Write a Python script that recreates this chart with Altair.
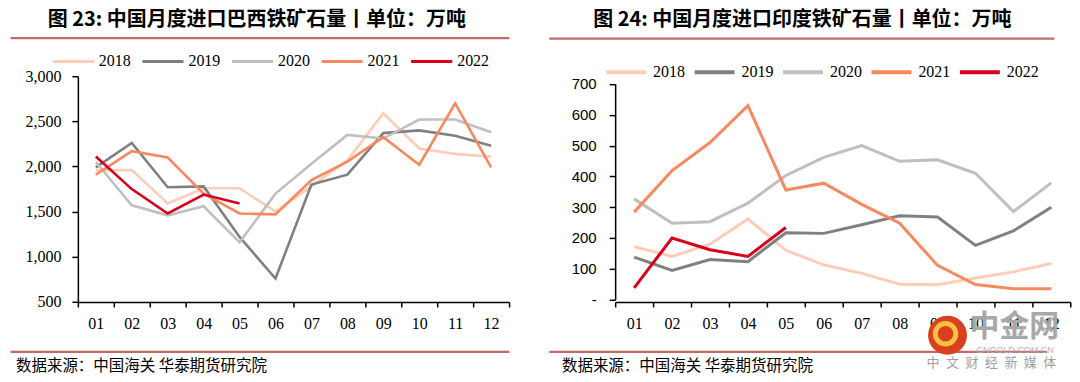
import altair as alt
import pandas as pd

months = ["01", "02", "03", "04", "05", "06", "07", "08", "09", "10", "11", "12"]
years = ["2018", "2019", "2020", "2021", "2022"]
year_colors = ["#FCCDB9", "#808080", "#BFBFBF", "#F7895F", "#D9001B"]

brazil_2018 = [1960, 1960, 1590, 1760, 1760, 1500, 1780, 2070, 2590, 2200, 2140, 2110]
brazil_2019 = [1990, 2260, 1770, 1780, 1220, 760, 1800, 1910, 2370, 2400, 2340, 2230]
brazil_2020 = [2050, 1570, 1460, 1560, 1160, 1700, 2030, 2350, 2310, 2520, 2520, 2380]
brazil_2021 = [1910, 2170, 2100, 1700, 1480, 1470, 1850, 2055, 2325, 2020, 2700, 1990]
brazil_2022 = [2110, 1750, 1480, 1690, 1590]

india_2018 = [172, 140, 180, 262, 160, 113, 85, 50, 48, 70, 90, 117]
india_2019 = [138, 95, 130, 123, 217, 215, 243, 272, 268, 176, 223, 300]
india_2020 = [327, 248, 253, 313, 403, 462, 500, 449, 454, 410, 286, 379]
india_2021 = [284, 419, 510, 630, 356, 378, 309, 248, 111, 49, 35, 35]
india_2022 = [38, 200, 162, 140, 234]

brazil_ticks = [500, 1000, 1500, 2000, 2500, 3000]
india_ticks = [0, 100, 200, 300, 400, 500, 600, 700]

title_left = "图 23: 中国月度进口巴西铁矿石量丨单位：万吨"
title_right = "图 24: 中国月度进口印度铁矿石量丨单位：万吨"
source_text = "数据来源：中国海关 华泰期货研究院"
wm_big = "中金网"
wm_url = "CNGOLD.COM.CN"
wm_small = "中\u2002文\u2002财\u2002经\u2002新\u2002媒\u2002体"

RULE_COLOR = "#C46A6A"
CJK = "Noto Sans CJK SC"
SERIF = "Liberation Serif"
SANS = "Liberation Sans"


def long_table(series):
    rows = []
    for yr, vals in zip(years, series):
        for m, v in zip(months, vals):
            rows.append({"month": m, "year": yr, "value": v})
    return pd.DataFrame(rows)


brazil_df = long_table([brazil_2018, brazil_2019, brazil_2020, brazil_2021, brazil_2022])
india_df = long_table([india_2018, india_2019, india_2020, india_2021, india_2022])
one = pd.DataFrame({"k": [0]})


def rule(x1, x2, y, color=RULE_COLOR, w=2.2):
    return alt.Chart(one).mark_rule(color=color, strokeWidth=w).encode(
        x=alt.value(x1), x2=alt.value(x2), y=alt.value(y)
    )


def text(t, x, y, size, font=CJK, weight="normal", color="black", align="left", baseline="middle"):
    return alt.Chart(one).mark_text(
        text=t, font=font, fontSize=size, fontWeight=weight, color=color,
        align=align, baseline=baseline
    ).encode(x=alt.value(x), y=alt.value(y))


def panel(df, yscale, yaxis, legend, stroke, title, title_x, rule_top, rule_bot, src_x):
    lines = alt.Chart(df).mark_line(strokeWidth=stroke).encode(
        x=alt.X(
            "month:O",
            bandPosition=0.5,
            scale=alt.Scale(type="band", paddingInner=0, paddingOuter=0),
            axis=alt.Axis(
                title=None, labelAngle=0, tickBand="extent", labelFont=SERIF,
                labelFontSize=16, labelColor="black", tickSize=5, tickColor="black",
                tickWidth=1.5, domainColor="black", domainWidth=1.5, labelPadding=9,
                grid=False,
            ),
        ),
        y=alt.Y("value:Q", scale=yscale, axis=yaxis),
        color=alt.Color(
            "year:N",
            scale=alt.Scale(domain=years, range=year_colors),
            legend=legend,
        ),
        order=alt.Order("year:N"),
    )
    return [
        lines,
        text(title, title_x, -56.4, 20, weight="bold"),
        rule(rule_top[0], rule_top[1], rule_top[2]),
        rule(rule_bot[0], rule_bot[1], rule_bot[2]),
        text(source_text, src_x, 290.5, 15.5),
    ]


# invisible anchor fixing the top-left of the drawing at page (8, 8)
anchor = alt.Chart(one).mark_point(size=1, opacity=0, filled=True).encode(
    x=alt.value(-68.7), y=alt.value(-67.5)
)

# Left panel: plot area at page (76.7, 75.5)
left_layers = panel(
    brazil_df,
    alt.Scale(domain=[500, 3000], range=[226.2, 0], nice=False, zero=False),
    alt.Axis(
        title=None, values=brazil_ticks, format=",.0f", labelFont=SERIF, labelFontSize=16,
        labelColor="black", tickSize=6, tickColor="black", tickWidth=1.5,
        domainColor="black", domainWidth=1.5, labelPadding=11, grid=False,
    ),
    alt.Legend(
        orient="none", legendX=-27, legendY=-37.5, direction="horizontal", title=None,
        symbolType="stroke", symbolSize=1700, symbolStrokeWidth=3,
        labelFont=SERIF, labelFontSize=16, labelColor="black", labelOffset=3,
        columnPadding=4.75, padding=0,
    ),
    2.6, title_left, -30.2,
    (-67.4, 432.3, -38.2), (-67.4, 432.3, 276.2), -62,
)
left = alt.layer(anchor, *left_layers).properties(width=432, height=226.2)

# Right panel: plot area at page (615, 75.5)
right_layers = panel(
    india_df,
    alt.Scale(domain=[0, 700], range=[223.8, 7.8], nice=False),
    alt.Axis(
        title=None, values=india_ticks, labelFont=SANS, labelFontSize=15,
        labelExpr="datum.value == 0 ? '-\u00a0\u00a0\u00a0\u00a0\u00a0' : datum.label",
        labelColor="black", tickSize=6, tickColor="black", tickWidth=1.5,
        domainColor="black", domainWidth=1.5, labelPadding=13, grid=False,
    ),
    alt.Legend(
        orient="none", legendX=-11, legendY=-26, direction="horizontal", title=None,
        symbolType="stroke", symbolSize=1600, symbolStrokeWidth=4,
        labelFont=SERIF, labelFontSize=16, labelColor="black", labelOffset=5,
        columnPadding=1.6, padding=0,
    ),
    3, title_right, -22,
    (-66, 440, -37.7), (-66, 433, 276.2), -53.3,
)
logo = alt.Chart(one).mark_point(
    shape="circle", filled=True, size=1520, color="#D8401F", opacity=1
).encode(x=alt.value(333), y=alt.value(259.5))
logo_inner = alt.Chart(one).mark_point(
    shape="circle", filled=False, size=420, color="#F6C040", strokeWidth=5, opacity=1
).encode(x=alt.value(331), y=alt.value(258))
right_layers += [
    logo,
    logo_inner,
    text(wm_big, 355, 251.5, 30, weight="bold", color="#A8A8A8"),
    text(wm_url, 362, 274.5, 9, font=SANS, color="#B4B4B4"),
    text(wm_small, 312, 287.5, 13, color="#A0A0A0"),
]
right = alt.layer(*right_layers).properties(width=456, height=226.2)

chart = (
    alt.hconcat(left, right, spacing=106.3, bounds="flush")
    .resolve_scale(x="independent", y="independent", color="independent")
    .resolve_legend(color="independent")
    .properties(padding=0, background="white")
    .configure_view(stroke=None)
)

chart.save("out.html", embed_options={"renderer": "svg", "actions": False})
